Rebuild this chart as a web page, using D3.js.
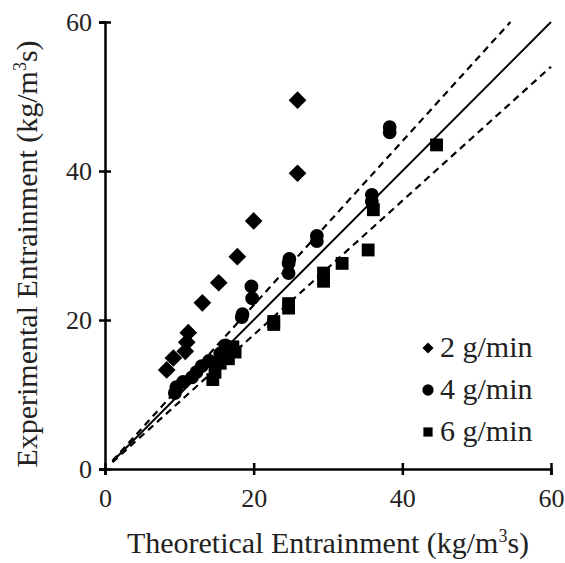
<!DOCTYPE html>
<html><head><meta charset="utf-8">
<script src="https://cdn.jsdelivr.net/npm/d3@7"></script>
<style>body{margin:0;background:#fff}svg{display:block}text{font-family:"Liberation Serif","Times New Roman",serif;fill:#222}</style>
</head><body>
<svg id="c" width="565" height="563"></svg>
<script>
const seriesNames = ["2 g/min","4 g/min","6 g/min"];
const series2 = [[8.3,13.3],[9.2,14.9],[10.8,15.8],[11,17],[11.2,18.3],[13.1,22.3],[15.3,25],[17.8,28.5],[20,33.3],[25.9,39.7],[25.9,49.5]];
const series4 = [[9.4,10.2],[9.6,11],[10.5,11.7],[11.7,12.3],[12.3,13],[13,13.8],[14,14.5],[15.5,15.5],[16.2,16.6],[18.4,20.4],[18.5,20.8],[19.8,22.9],[19.7,24.5],[24.7,26.3],[24.7,27.6],[24.8,28.2],[28.5,30.6],[28.5,31.3],[35.9,35.9],[35.9,36.8],[38.3,45.2],[38.3,45.9]];
const series6 = [[14.5,12],[14.8,13],[15.5,14.2],[16.6,14.8],[17.5,15.7],[17.2,16.4],[22.7,19.4],[22.7,19.8],[24.7,21.6],[24.7,22.2],[29.4,25.2],[29.4,26.3],[31.9,27.6],[35.4,29.4],[36.1,34.8],[44.6,43.5]];
const ticks = [0,20,40,60];
const refSlopes = [1, 1.1, 0.9];

const svg = d3.select("#c");
const x = d3.scaleLinear().domain([0,60]).range([105,551]);
const y = d3.scaleLinear().domain([0,60]).range([469,22]);

// reference lines
refSlopes.forEach(s=>{
  const x1 = 1, x2 = Math.min(60, 60/s);
  svg.append("line").attr("x1",x(x1)).attr("y1",y(x1*s)).attr("x2",x(x2)).attr("y2",y(x2*s))
    .attr("stroke","#000").attr("stroke-width",s===1?2:2.2)
    .attr("stroke-dasharray",s===1?null:"7,5");
});

// axes
const xa = svg.append("g").attr("transform",`translate(0,${y(0)})`)
  .call(d3.axisBottom(x).tickValues(ticks).tickSize(6).tickPadding(14));
const ya = svg.append("g").attr("transform",`translate(${x(0)},0)`)
  .call(d3.axisLeft(y).tickValues(ticks).tickSize(6).tickPadding(7));
[xa,ya].forEach(a=>{
  a.select(".domain").attr("stroke","#000").attr("stroke-width",2.5);
  a.selectAll(".tick line").attr("stroke","#000").attr("stroke-width",2.5);
  a.selectAll(".tick text").attr("font-size",26).attr("font-family","Liberation Serif").attr("fill","#222");
});
xa.selectAll(".tick line").attr("y1",-6).attr("y2",6);
ya.selectAll(".tick line").attr("x1",6).attr("x2",-6);

// points
const sym = {
  d: d3.symbol().type(d3.symbolDiamond2).size(200),
  c: d3.symbol().type(d3.symbolCircle).size(150),
  s: d3.symbol().type(d3.symbolSquare).size(165)
};
function plot(data, gen){
  svg.append("g").selectAll("path").data(data).join("path")
    .attr("d", gen).attr("transform", d=>`translate(${x(d[0])},${y(d[1])})`).attr("fill","#000");
}
plot(series2, sym.d);
plot(series4, sym.c);
plot(series6, sym.s);

// legend
const lg = [
  {name:seriesNames[0], g:d3.symbol().type(d3.symbolDiamond2).size(80)},
  {name:seriesNames[1], g:d3.symbol().type(d3.symbolCircle).size(100)},
  {name:seriesNames[2], g:d3.symbol().type(d3.symbolSquare).size(85)}
];
lg.forEach((l,i)=>{
  const cy = 348 + i*42;
  svg.append("path").attr("d",l.g).attr("transform",`translate(428,${cy})`).attr("fill","#000");
  svg.append("text").attr("x",440).attr("y",cy+9).attr("font-size",30).text(l.name);
});

// titles
const xt = svg.append("text").attr("x",328).attr("y",553).attr("text-anchor","middle").attr("font-size",30);
xt.append("tspan").text("Theoretical Entrainment (kg/m");
xt.append("tspan").attr("font-size",18).attr("dy",-11).text("3");
xt.append("tspan").attr("dy",11).text("s)");
const yt = svg.append("text").attr("transform","translate(37,254) rotate(-90)").attr("text-anchor","middle").attr("font-size",30);
yt.append("tspan").text("Experimental Entrainment (kg/m");
yt.append("tspan").attr("font-size",18).attr("dy",-11).text("3");
yt.append("tspan").attr("dy",11).text("s)");
</script>
</body></html>
